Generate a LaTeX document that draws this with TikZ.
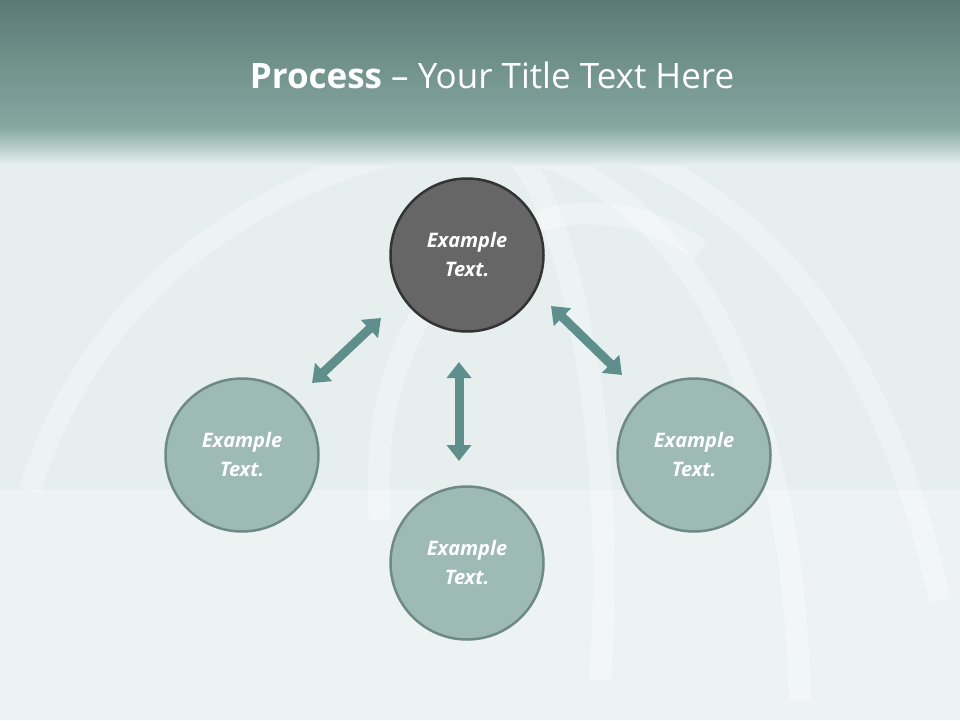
\documentclass[tikz,border=0pt]{standalone}
\usepackage{fontspec}
\setmainfont{Open Sans}
\usetikzlibrary{arrows.meta}
\definecolor{bg}{HTML}{E6EFEE}
\definecolor{hdtop}{HTML}{5C7A75}
\definecolor{hdbot}{HTML}{86A8A1}
\definecolor{lite}{HTML}{9DBAB4}
\definecolor{liteb}{HTML}{6F8A86}
\definecolor{dark}{HTML}{666666}
\definecolor{arr}{HTML}{5F8F8D}
\tikzset{
 circ/.style={circle,minimum size=153pt,line width=2.5pt,draw=liteb,fill=lite,text=white,font=\bfseries\itshape\fontsize{20pt}{29pt}\selectfont,align=center},
 dcirc/.style={circ,fill=dark,draw=black!80},
 dbl/.style={line width=9pt,draw=arr,{Triangle[width=24pt,length=16pt]}-{Triangle[width=24pt,length=16pt]}},
 arc/.style={draw=white,line width=22pt,opacity=0.3}
}
\begin{document}
\begin{tikzpicture}[x=1pt,y=-1pt]
\useasboundingbox (0,0) rectangle (960,720);
\fill[bg] (0,0) rectangle (960,720);
\fill[white,opacity=0.3] (0,490) rectangle (960,720);
\draw[arc] (30,490) .. controls (120,200) and (420,120) .. (560,140);
\draw[arc] (380,520) .. controls (360,260) and (560,150) .. (700,250);
\draw[arc] (600,680) .. controls (620,420) and (560,200) .. (520,160);
\draw[arc] (800,700) .. controls (790,330) and (650,180) .. (520,150);
\draw[arc] (940,600) .. controls (880,330) and (760,200) .. (600,140);
\shade[top color=hdtop,bottom color=hdbot] (0,0) rectangle (960,128);
\shade[top color=hdbot,bottom color=bg] (0,128) rectangle (960,165);
\node (title) at (492,75) {\color{white}\fontsize{35pt}{40pt}\selectfont\textbf{Process} -- Your Title Text Here};
\node[dcirc] (top) at (467,255) {Example\\Text.};
\node[circ] (left) at (242,455) {Example\\Text.};
\node[circ] (bot) at (467,563) {Example\\Text.};
\node[circ] (right) at (694,455) {Example\\Text.};
\coordinate (a1) at (312,383); \coordinate (a2) at (381,318);
\coordinate (b1) at (459,362); \coordinate (b2) at (459,461);
\coordinate (c1) at (551,306); \coordinate (c2) at (622,375);
\draw[dbl] (a1) -- (a2);
\draw[dbl] (b1) -- (b2);
\draw[dbl] (c1) -- (c2);
\end{tikzpicture}
\end{document}
